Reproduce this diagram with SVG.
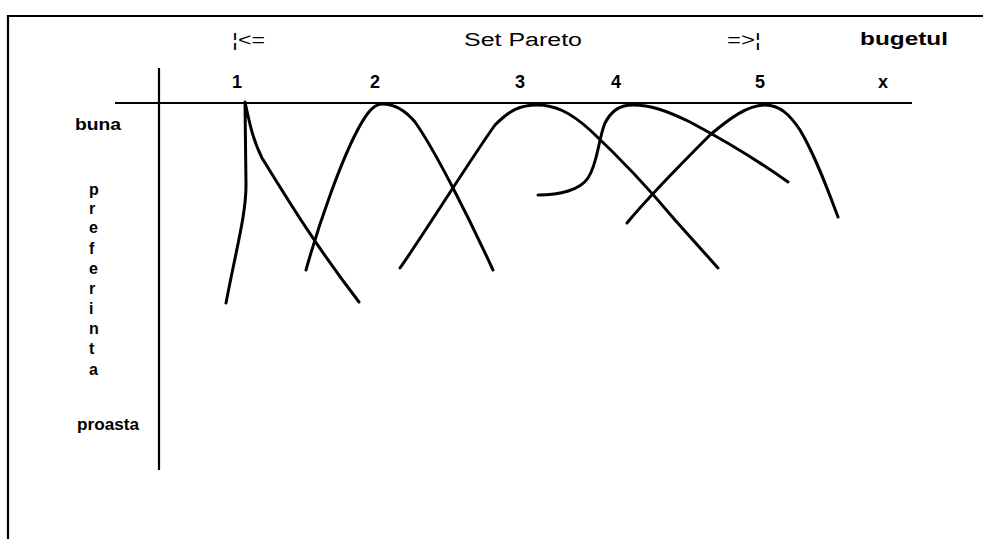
<svg xmlns="http://www.w3.org/2000/svg" width="983" height="539" viewBox="0 0 983 539">
<style>
.t{font-family:"Liberation Sans",Arial,sans-serif;fill:#000}
.b{font-weight:bold}
.ax{stroke:#000;stroke-width:2.2;fill:none}
.cv{stroke:#000;stroke-width:3;fill:none;stroke-linecap:round;stroke-linejoin:round}
</style>
<rect width="983" height="539" fill="#fff"/>
<g id="frame">
<path class="ax" d="M8,539 V16 H983"/>
</g>
<g id="top-labels">
<text class="t" x="232" y="46" font-size="18" textLength="33" lengthAdjust="spacingAndGlyphs">¦&lt;=</text>
<text class="t" x="464" y="46" font-size="18" textLength="118" lengthAdjust="spacingAndGlyphs">Set Pareto</text>
<text class="t" x="727" y="46" font-size="18" textLength="34" lengthAdjust="spacingAndGlyphs">=&gt;¦</text>
<text class="t b" x="860" y="45" font-size="18" textLength="88" lengthAdjust="spacingAndGlyphs">bugetul</text>
</g>
<g id="axes">
<line class="ax" x1="115" y1="103" x2="912" y2="103"/>
<line class="ax" x1="159" y1="68" x2="159" y2="470"/>
</g>
<g id="x-labels" class="t b" font-size="18">
<text x="237" y="88" text-anchor="middle">1</text>
<text x="375" y="88" text-anchor="middle">2</text>
<text x="520" y="88" text-anchor="middle">3</text>
<text x="616" y="88" text-anchor="middle">4</text>
<text x="760" y="88" text-anchor="middle">5</text>
<text x="883" y="88" text-anchor="middle">x</text>
</g>
<g id="y-labels" class="t b" font-size="16">
<text x="75" y="130" font-size="17" textLength="46" lengthAdjust="spacingAndGlyphs">buna</text>
<text x="89" y="195">p</text>
<text x="89" y="214">r</text>
<text x="89" y="233">e</text>
<text x="89" y="254">f</text>
<text x="89" y="274">e</text>
<text x="89" y="294">r</text>
<text x="89" y="314">i</text>
<text x="89" y="334">n</text>
<text x="89" y="354">t</text>
<text x="89" y="375">a</text>
<text x="77" y="430" font-size="17" textLength="62" lengthAdjust="spacingAndGlyphs">proasta</text>
</g>
<g id="curves">
<path id="c1" class="cv" d="M226,303 C236,250 246,215 246,185 L245,102 C250,125 253,140 262,158 C285,195 315,245 359,302"/>
<path id="c2" class="cv" d="M306,270 C320,220 340,165 355,135 C365,115 373,104 382,104 C395,104 405,110 415,122 C435,150 470,220 493,270"/>
<path id="c3" class="cv" d="M400,268 C420,240 470,160 495,125 C510,110 520,105 537,105 C555,105 570,112 590,130 C620,158 650,190 675,220 L718,268"/>
<path id="c4" class="cv" d="M538,195 C560,195 580,190 588,178 C598,163 598,140 605,123 C612,110 620,105 633,105 C650,105 665,110 690,122 C720,138 760,162 788,182"/>
<path id="c5" class="cv" d="M627,223 C650,195 680,165 710,135 C730,118 748,105 765,105 C780,105 790,115 800,130 C815,155 828,190 838,217"/>
</g>
</svg>
